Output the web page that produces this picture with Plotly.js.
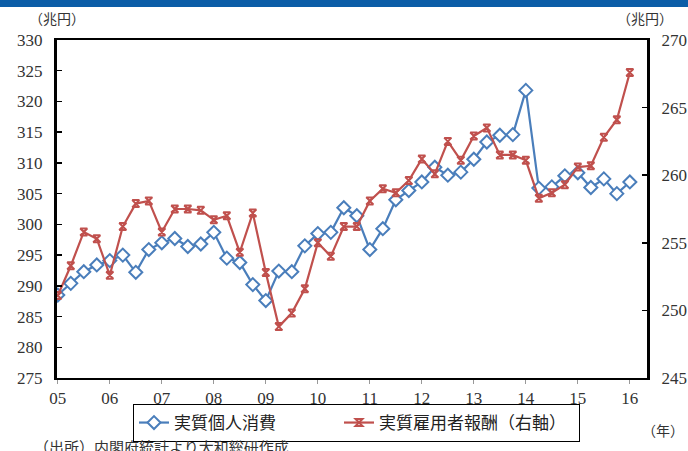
<!DOCTYPE html>
<html>
<head>
<meta charset="utf-8">
<script src="https://cdn.plot.ly/plotly-3.0.1.min.js"></script>
<style>
  html, body { margin: 0; padding: 0; background: #fff; }
  #chart { width: 688px; height: 451px; }
</style>
</head>
<body>
<div id="chart"></div>
<script>
// Quarterly series, 2005Q1 - 2016Q1 (trillion yen)
const quarters = [];
for (let y = 2005; y <= 2016; y++) {
  for (let q = 0; q < 4; q++) {
    if (y === 2016 && q > 0) break;
    quarters.push(y + q * 0.25);
  }
}

// 実質個人消費 (left axis)
const consumption = [
  288.5, 290.4, 292.3, 293.4, 294.1, 295.0, 292.2, 295.9, 297.0, 297.7, 296.4, 296.8,
  298.7, 294.5, 293.8, 290.2, 287.6, 292.4, 292.3, 296.5, 298.5, 298.7, 302.7, 301.4,
  295.9, 299.3, 304.0, 305.5, 306.9, 309.3, 308.0, 308.5, 310.6, 313.4, 314.5, 314.6,
  321.8, 305.9, 306.1, 307.9, 308.4, 306.0, 307.4, 305.0, 306.9
];

// 実質雇用者報酬 (right axis)
const compensation = [
  251.1, 253.3, 255.8, 255.3, 252.6, 256.2, 257.9, 258.1, 255.8, 257.5, 257.5, 257.4,
  256.7, 257.0, 254.3, 257.2, 252.8, 248.8, 249.8, 251.6, 255.0, 254.0, 256.2, 256.2,
  258.1, 259.0, 258.7, 259.6, 261.2, 260.1, 262.5, 261.1, 262.9, 263.5, 261.5, 261.5,
  261.1, 258.3, 258.7, 259.3, 260.6, 260.7, 262.8, 264.1, 267.6
];

const yearTicks = [2005, 2006, 2007, 2008, 2009, 2010, 2011, 2012, 2013, 2014, 2015, 2016];
const yearLabels = ['05', '06', '07', '08', '09', '10', '11', '12', '13', '14', '15', '16'];

const BLUE = '#4A7EBB';
const RED = '#C0504D';
const JP = '"Noto Sans CJK JP", sans-serif';
const NUM = '"Liberation Serif", "DejaVu Serif", serif';

// plot area in pixels: x 57..647, y 40..378
const W = 688, H = 451;
const L = 57, R = 647, T = 40, B = 378;
const px = v => (v - L) / (R - L);
const py = v => (B - v) / (B - T);

const traces = [
  {
    x: quarters, y: consumption, name: '実質個人消費',
    type: 'scatter', mode: 'lines+markers',
    line: { color: BLUE, width: 2.2 },
    marker: { symbol: 'diamond', size: 10, color: '#ffffff', line: { color: BLUE, width: 2 } },
    legendwidth: 160,
    yaxis: 'y'
  },
  {
    x: quarters, y: compensation, name: '実質雇用者報酬（右軸）',
    type: 'scatter', mode: 'lines+markers',
    line: { color: RED, width: 2.2 },
    marker: { symbol: 'hourglass-open', size: 7, color: RED, line: { color: RED, width: 2 } },
    legendwidth: 195,
    yaxis: 'y2'
  }
];

const layout = {
  width: W, height: H,
  margin: { l: L, r: W - R, t: T, b: H - B, pad: 0 },
  paper_bgcolor: '#ffffff', plot_bgcolor: '#ffffff',
  showlegend: true,
  legend: {
    orientation: 'h',
    xref: 'container', yref: 'container',
    x: 133 / W, y: (H - 404) / H, xanchor: 'left', yanchor: 'top',
    bordercolor: '#000', borderwidth: 1, bgcolor: '#fff',
    font: { family: JP, size: 17, color: '#222' },
    itemwidth: 30, tracegroupgap: 0
  },
  xaxis: {
    range: [2004.985, 2016.33],
    tickvals: yearTicks, ticktext: yearLabels,
    ticks: 'outside', ticklen: 4, tickwidth: 1, tickcolor: '#999',
    showline: true, linecolor: '#000', linewidth: 2, mirror: true,
    showgrid: false, zeroline: false,
    tickfont: { family: NUM, size: 17, color: '#333' }
  },
  yaxis: {
    range: [275, 330], dtick: 5, tick0: 275,
    ticks: 'inside', ticklen: 5, tickwidth: 1.5, tickcolor: '#000',
    showline: true, linecolor: '#000', linewidth: 3,
    showgrid: false, zeroline: false,
    ticklabelstandoff: 8,
    tickfont: { family: NUM, size: 17, color: '#333' }
  },
  yaxis2: {
    range: [245, 270], dtick: 5, tick0: 245,
    overlaying: 'y', side: 'right',
    ticks: 'inside', ticklen: 5, tickwidth: 1.5, tickcolor: '#000',
    showline: true, linecolor: '#000', linewidth: 3,
    showgrid: false, zeroline: false,
    ticklabelstandoff: 8,
    tickfont: { family: NUM, size: 17, color: '#333' }
  },
  shapes: [
    {
      type: 'rect', xref: 'paper', yref: 'paper', layer: 'above',
      x0: px(0), x1: px(W), y0: py(7), y1: py(0),
      fillcolor: '#0B5DA7', line: { width: 0 }
    }
  ],
  annotations: [
    { text: '（兆円）', xref: 'paper', yref: 'paper', x: px(57), y: py(18),
      xanchor: 'center', yanchor: 'middle', showarrow: false,
      font: { family: JP, size: 14, color: '#333' } },
    { text: '（兆円）', xref: 'paper', yref: 'paper', x: px(645), y: py(18),
      xanchor: 'center', yanchor: 'middle', showarrow: false,
      font: { family: JP, size: 14, color: '#333' } },
    { text: '（年）', xref: 'paper', yref: 'paper', x: px(686), y: py(430),
      xanchor: 'right', yanchor: 'middle', showarrow: false,
      font: { family: JP, size: 14, color: '#333' } },
    { text: '（出所）内閣府統計より大和総研作成', xref: 'paper', yref: 'paper', x: px(32), y: py(434),
      xanchor: 'left', yanchor: 'top', showarrow: false,
      font: { family: JP, size: 15, color: '#333' } }
  ]
};

Plotly.newPlot('chart', traces, layout, { staticPlot: true, displayModeBar: false });
</script>
</body>
</html>
